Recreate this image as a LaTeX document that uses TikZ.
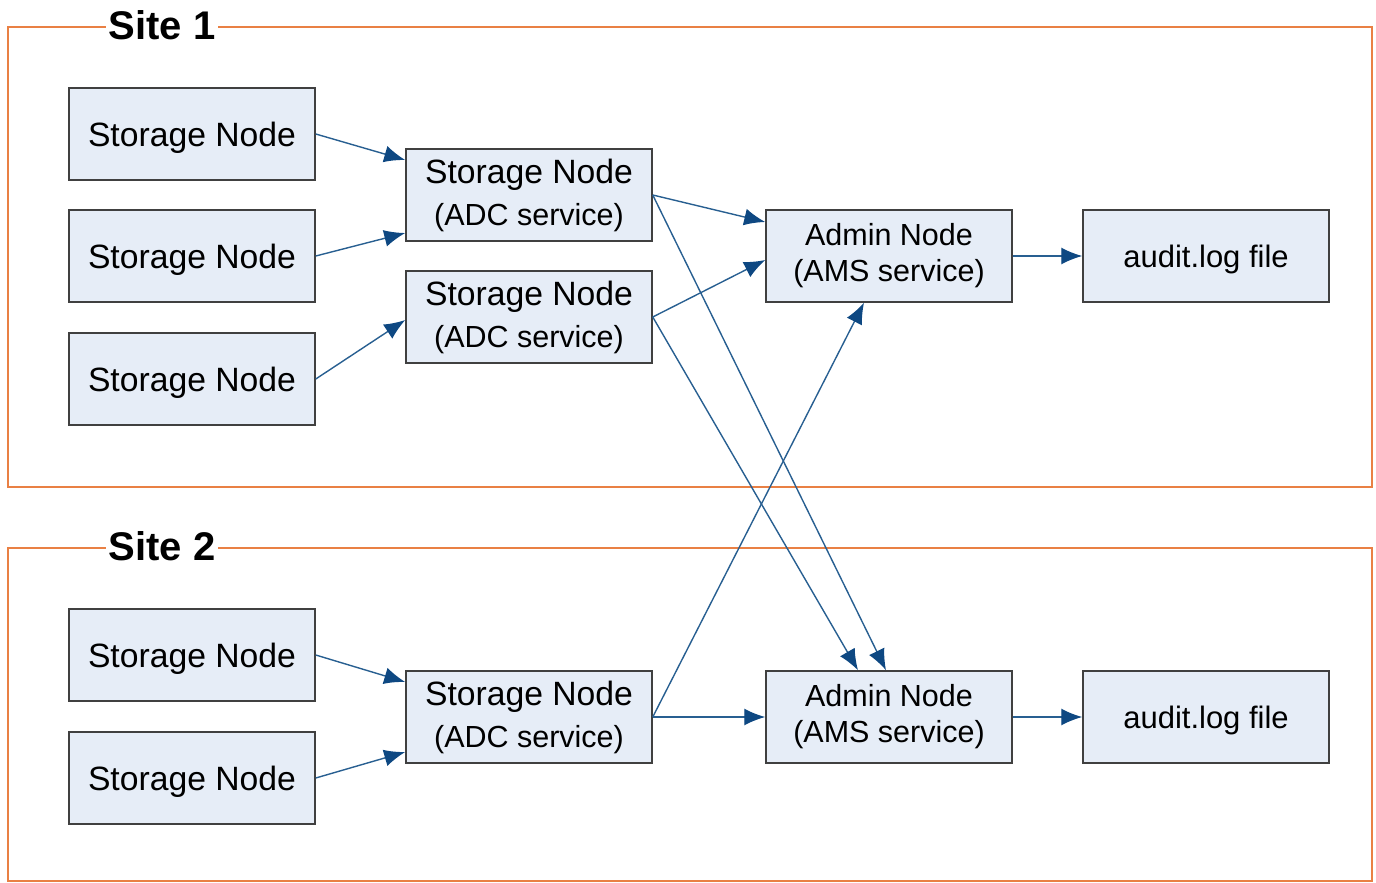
\documentclass[tikz,border=0pt]{standalone}
\usepackage{fontspec}
\setmainfont{Liberation Sans}
\usetikzlibrary{arrows.meta}
\definecolor{boxfill}{RGB}{230,237,247}
\definecolor{boxdraw}{RGB}{64,64,64}
\definecolor{arrowc}{RGB}{40,95,145}
\definecolor{tipc}{RGB}{14,72,130}
\definecolor{sitec}{RGB}{233,128,68}
\tikzset{
  nodebox/.style={draw=boxdraw, line width=1.5pt, fill=boxfill, minimum width=246pt, minimum height=92pt, inner sep=0pt, align=center, text=black},
  conn/.style={draw=arrowc, line width=1.4pt, -{Latex[length=21pt,width=17pt,fill=tipc,color=tipc]}},
  sitebox/.style={draw=sitec, line width=2.5pt},
  sitelabel/.style={fill=white, inner xsep=3pt, inner ysep=0pt, font=\fontsize{40}{44}\selectfont\bfseries, text=black},
  big/.style={font=\fontsize{33.7}{40}\selectfont, text depth=0pt},
  adcfont/.style={font=\fontsize{31}{42}\selectfont},
  amsfont/.style={font=\fontsize{31}{36}\selectfont},
  logfont/.style={font=\fontsize{31}{40}\selectfont, text depth=0pt},
}
\newcommand{\twol}[3]{{\fontsize{#1}{40}\selectfont #2}\\{\fontsize{30.5}{40}\selectfont #3}}
\begin{document}
\begin{tikzpicture}[x=1pt,y=-1pt]
\useasboundingbox (0,0) rectangle (1376,883);
% sites
\draw[sitebox] (8,27) rectangle (1372,487);
\draw[sitebox] (8,548) rectangle (1372,881);
\node[sitelabel] (s1) at (162,25) {Site 1};
\node[sitelabel] (s2) at (162,546) {Site 2};
% storage nodes
\node[nodebox,big] (sn1) at (192,134) {Storage Node};
\node[nodebox,big] (sn2) at (192,256) {Storage Node};
\node[nodebox,big] (sn3) at (192,379) {Storage Node};
\node[nodebox,big] (sn4) at (192,655) {Storage Node};
\node[nodebox,big] (sn5) at (192,778) {Storage Node};
% ADC
\node[nodebox,adcfont] (adc1) at (529,195) {\twol{33.7}{Storage Node}{(ADC service)}};
\node[nodebox,adcfont] (adc2) at (529,317) {\twol{33.7}{Storage Node}{(ADC service)}};
\node[nodebox,adcfont] (adc3) at (529,717) {\twol{33.7}{Storage Node}{(ADC service)}};
% admin
\node[nodebox,amsfont] (am1) at (889,256) {\twol{30.5}{Admin Node}{(AMS service)}};
\node[nodebox,amsfont] (am2) at (889,717) {\twol{30.5}{Admin Node}{(AMS service)}};
% audit
\node[nodebox,logfont] (al1) at (1206,256) {audit.log file};
\node[nodebox,logfont] (al2) at (1206,717) {audit.log file};
% connectors
\draw[conn] (sn1.east) -- ([yshift=35pt]adc1.west);
\draw[conn] (sn2.east) -- ([yshift=-38pt]adc1.west);
\draw[conn] (sn3.east) -- ([yshift=-3pt]adc2.west);
\draw[conn] (adc1.east) -- ([yshift=34pt]am1.west);
\draw[conn] (adc2.east) -- ([yshift=-4pt]am1.west);
\draw[conn] (adc1.east) -- ([xshift=-3pt]am2.north);
\draw[conn] (adc2.east) -- ([xshift=-31pt]am2.north);
\draw[conn] (adc3.east) -- ([xshift=-25pt]am1.south);
\draw[conn] (adc3.east) -- (am2.west);
\draw[conn] (am1.east) -- (al1.west);
\draw[conn] (am2.east) -- (al2.west);
\draw[conn] (sn4.east) -- ([yshift=35pt]adc3.west);
\draw[conn] (sn5.east) -- ([yshift=-35pt]adc3.west);
\end{tikzpicture}
\end{document}
